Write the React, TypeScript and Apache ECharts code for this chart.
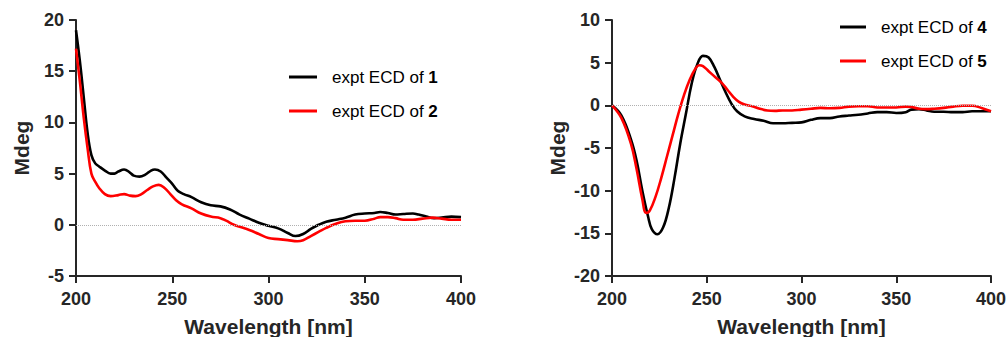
import React, { useEffect, useRef } from "react";
import * as echarts from "echarts";

// Left panel: wavelengths (nm) and values (mdeg)
const wlL1 = [200, 202, 204, 206, 208, 210, 212, 215, 218, 220, 222, 225, 228, 230, 233, 236, 239, 241, 244, 247, 250, 253, 256, 260, 265, 270, 275, 280, 285, 290, 295, 300, 305, 310, 314, 318, 322, 326, 330, 335, 340, 345, 350, 355, 358, 362, 366, 370, 375, 378, 382, 386, 390, 395, 400];
const ecd1 = [19, 16, 12.5, 9, 6.8, 6.0, 5.7, 5.3, 5.0, 5.0, 5.2, 5.4, 5.1, 4.8, 4.7, 4.9, 5.3, 5.4, 5.2, 4.6, 4.0, 3.3, 3.0, 2.7, 2.2, 1.9, 1.8, 1.5, 1.0, 0.6, 0.2, -0.1, -0.35, -0.8, -1.1, -0.9, -0.4, 0.0, 0.3, 0.5, 0.7, 1.0, 1.1, 1.15, 1.25, 1.15, 1.0, 1.05, 1.1, 1.0, 0.8, 0.65, 0.7, 0.8, 0.75];

const wlL2 = [200, 202, 204, 206, 208, 210, 212, 215, 218, 222, 225, 228, 231, 234, 237, 240, 243, 246, 249, 252, 255, 260, 265, 270, 275, 278, 282, 285, 290, 295, 300, 305, 310, 315, 318, 322, 326, 330, 335, 340, 345, 350, 355, 358, 362, 366, 370, 375, 380, 385, 390, 395, 400];
const ecd2 = [17.2, 14, 10.5, 7.5, 5, 4.2, 3.6, 3.0, 2.8, 2.9, 3.0, 2.85, 2.8, 3.0, 3.4, 3.75, 3.9, 3.6, 3.0, 2.4, 2.0, 1.6, 1.1, 0.8, 0.65, 0.4, 0.0, -0.2, -0.5, -0.9, -1.3, -1.4, -1.5, -1.6, -1.5, -1.1, -0.7, -0.3, 0.1, 0.35, 0.4, 0.4, 0.6, 0.75, 0.75, 0.65, 0.5, 0.5, 0.6, 0.7, 0.6, 0.5, 0.5];

// Right panel
const wlR4 = [200, 205, 210, 213, 216, 219, 221, 224, 227, 230, 233, 236, 239, 242, 245, 248, 251, 254, 257, 260, 263, 266, 270, 275, 280, 285, 290, 295, 300, 305, 310, 315, 320, 325, 330, 335, 340, 345, 350, 355, 358, 362, 366, 370, 375, 380, 385, 390, 395, 400];
const ecd4 = [0, -1.2, -4, -6.5, -10, -13, -14.5, -15.1, -14.3, -12, -8.5, -4.5, -1, 2.5, 4.8, 5.8, 5.6, 4.5, 3.0, 1.5, 0.2, -0.7, -1.3, -1.6, -1.8, -2.1, -2.1, -2.05, -2.0, -1.7, -1.5, -1.5, -1.3, -1.2, -1.1, -0.95, -0.8, -0.8, -0.9, -0.8, -0.5, -0.45, -0.6, -0.75, -0.75, -0.8, -0.8, -0.7, -0.7, -0.7];

const wlR5 = [200, 205, 210, 213, 216, 218, 220, 223, 226, 229, 232, 235, 238, 241, 244, 246, 248, 251, 255, 258, 261, 264, 267, 270, 274, 278, 282, 286, 290, 295, 300, 305, 310, 315, 320, 325, 330, 335, 340, 345, 350, 355, 358, 362, 366, 370, 375, 380, 385, 390, 395, 400];
const ecd5 = [0, -1.5, -4.5, -7.5, -11, -12.6, -12.3, -10.7, -8.5, -6, -3.5, -1, 1.2, 3.0, 4.3, 4.7, 4.6, 4.0, 3.2, 2.6, 1.8, 1.0, 0.4, 0.1, -0.1, -0.4, -0.6, -0.65, -0.6, -0.6, -0.5, -0.4, -0.3, -0.35, -0.3, -0.15, -0.1, -0.1, -0.25, -0.25, -0.25, -0.15, -0.2, -0.4, -0.45, -0.4, -0.3, -0.15, -0.05, -0.05, -0.3, -0.7];

const legendLeft = ["1", "2"];
const legendRight = ["4", "5"];

const FONT = "'Liberation Sans', Arial, sans-serif";
const AXIS_COLOR = "#262626";

const zip = (xs: number[], ys: number[]) => xs.map((x, i) => [x, ys[i]]);

export default function App() {
  const ref = useRef<HTMLDivElement>(null);
  useEffect(() => {
    if (!ref.current) return;
    const chart = echarts.init(ref.current, null, { renderer: "svg" });

    const xAxisBase = (gridIndex: number) => ({
      type: "value",
      gridIndex,
      min: 200,
      max: 400,
      interval: 50,
      name: "Wavelength [nm]",
      nameLocation: "middle",
      nameGap: 40,
      nameTextStyle: { fontFamily: FONT, fontWeight: "bold", fontSize: 21, color: AXIS_COLOR },
      axisLine: { show: true, onZero: false, lineStyle: { color: AXIS_COLOR, width: 2 } },
      axisTick: { show: true, length: 7, lineStyle: { color: AXIS_COLOR, width: 2 } },
      axisLabel: { margin: 14, fontFamily: FONT, fontWeight: "bold", fontSize: 18, color: AXIS_COLOR },
      splitLine: { show: false },
    });
    const yAxisBase = (gridIndex: number, min: number, max: number) => ({
      type: "value",
      gridIndex,
      min,
      max,
      interval: 5,
      name: "Mdeg",
      nameLocation: "middle",
      nameGap: 44,
      nameTextStyle: { fontFamily: FONT, fontWeight: "bold", fontSize: 21, color: AXIS_COLOR },
      axisLine: { show: true, onZero: false, lineStyle: { color: AXIS_COLOR, width: 2 } },
      axisTick: { show: true, length: 7, lineStyle: { color: AXIS_COLOR, width: 2 } },
      axisLabel: { margin: 12, fontFamily: FONT, fontWeight: "bold", fontSize: 18, color: AXIS_COLOR },
      splitLine: { show: false },
    });

    const zeroLine = {
      silent: true,
      symbol: "none",
      label: { show: false },
      lineStyle: { type: "dotted", color: "#b0b0b0", width: 1 },
      data: [{ yAxis: 0 }],
    };

    const lineSeries = (name: string, data: number[][], color: string, idx: number, withZero: boolean) => ({
      type: "line",
      name,
      xAxisIndex: idx,
      yAxisIndex: idx,
      data,
      smooth: 0.4,
      showSymbol: false,
      symbol: "none",
      lineStyle: { color, width: 2.6 },
      itemStyle: { color },
      ...(withZero ? { markLine: zeroLine } : {}),
    });

    const legendItem = (x1: number, x2: number, y: number, color: string, num: string, tx: number) => [
      {
        type: "line",
        shape: { x1, y1: y, x2, y2: y },
        style: { stroke: color, lineWidth: 3 },
      },
      {
        type: "text",
        x: tx,
        y,
        style: {
          text: "{a|expt ECD of }{b|" + num + "}",
          verticalAlign: "middle",
          rich: {
            a: { fontFamily: FONT, fontSize: 17, color: "#111" },
            b: { fontFamily: FONT, fontSize: 17, fontWeight: "bold", color: "#111" },
          },
        },
      },
    ];

    chart.setOption({
      animation: false,
      backgroundColor: "#ffffff",
      grid: [
        { left: 76, top: 20, width: 385, height: 256, outerBoundsMode: "none", containLabel: false },
        { left: 612, top: 20, width: 379, height: 256, outerBoundsMode: "none", containLabel: false },
      ],
      xAxis: [xAxisBase(0), xAxisBase(1)],
      yAxis: [yAxisBase(0, -5, 20), yAxisBase(1, -20, 10)],
      series: [
        lineSeries("expt ECD of 1", zip(wlL1, ecd1), "#000000", 0, true),
        lineSeries("expt ECD of 2", zip(wlL2, ecd2), "#ff0000", 0, false),
        lineSeries("expt ECD of 4", zip(wlR4, ecd4), "#000000", 1, true),
        lineSeries("expt ECD of 5", zip(wlR5, ecd5), "#ff0000", 1, false),
      ],
      graphic: [
        ...legendItem(289, 317, 77, "#000000", legendLeft[0], 332),
        ...legendItem(289, 317, 111, "#ff0000", legendLeft[1], 332),
        ...legendItem(840, 866, 27, "#000000", legendRight[0], 881),
        ...legendItem(840, 866, 61, "#ff0000", legendRight[1], 881),
      ],
    });
    return () => chart.dispose();
  }, []);
  return (
    <div
      ref={ref}
      style={{ position: "absolute", left: 0, top: 0, width: 1008, height: 337 }}
    />
  );
}
